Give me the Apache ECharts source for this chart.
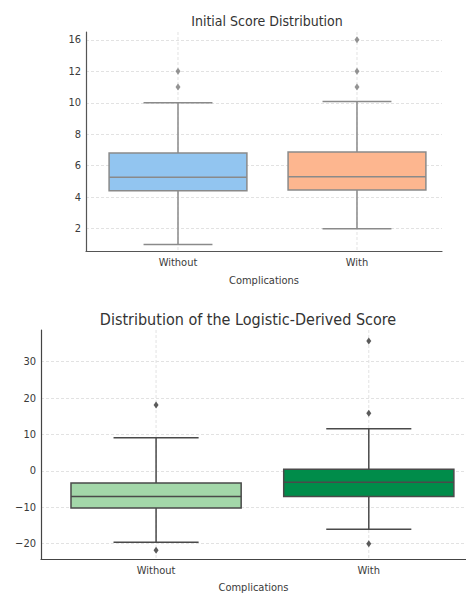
<!DOCTYPE html>
<html>
<head>
<meta charset="utf-8">
<script src="https://cdn.jsdelivr.net/npm/echarts@6/dist/echarts.min.js"></script>
<style>
html,body{margin:0;padding:0;background:#fff;overflow:hidden;}
#c{width:466px;height:596px;}
</style>
</head>
<body>
<div id="c"></div>
<script>
// ---------- data ----------
const categories = ['Without', 'With'];
// [min whisker, Q1, median, Q3, max whisker]
const initialWithout = [1.0, 4.41, 5.26, 6.81, 10.0];
const initialWith = [2.0, 4.45, 5.3, 6.88, 10.08];
const initialOutliersWithout = [11, 12];
const initialOutliersWith = [11, 12, 14]; // top point sits on the gridline the reference labels "16"
const initialTickValues = [2, 4, 6, 8, 10, 12, 14];
const initialTickLabels = ['2', '4', '6', '8', '10', '12', '16'];

const logisticWithout = [-19.6, -10.2, -7.0, -3.3, 9.1];
const logisticWith = [-16.0, -7.0, -3.1, 0.45, 11.6];
const logisticOutliersWithout = [18.1, -21.8];
const logisticOutliersWith = [35.7, 15.8, -20.0];
const logisticTickValues = [-20, -10, 0, 10, 20, 30];

// ---------- helpers ----------
const FONT = "'DejaVu Sans Condensed', 'DejaVu Sans', sans-serif";

function boxRenderer(boxW, fills, edge) {
  return function (params, api) {
    const c = api.value(0);
    const mn = api.value(1), q1 = api.value(2), med = api.value(3), q3 = api.value(4), mx = api.value(5);
    const w = api.size([boxW, 0])[0];
    const pMin = api.coord([c, mn]);
    const pQ1 = api.coord([c, q1]);
    const pMed = api.coord([c, med]);
    const pQ3 = api.coord([c, q3]);
    const pMax = api.coord([c, mx]);
    const cx = pMed[0];
    const cs = params.coordSys;
    const lineStyle = { stroke: edge, lineWidth: 1.5, fill: null };
    return {
      type: 'group',
      children: [
        { type: 'line', shape: { x1: cx, y1: cs.y, x2: cx, y2: cs.y + cs.height },
          style: { stroke: '#e2e2e2', lineWidth: 1, lineDash: [3, 2] }, z2: 0 },
        { type: 'line', shape: { x1: cx, y1: pQ3[1], x2: cx, y2: pMax[1] }, style: lineStyle, z2: 1 },
        { type: 'line', shape: { x1: cx, y1: pQ1[1], x2: cx, y2: pMin[1] }, style: lineStyle, z2: 1 },
        { type: 'line', shape: { x1: cx - w / 4, y1: pMax[1], x2: cx + w / 4, y2: pMax[1] }, style: lineStyle, z2: 1 },
        { type: 'line', shape: { x1: cx - w / 4, y1: pMin[1], x2: cx + w / 4, y2: pMin[1] }, style: lineStyle, z2: 1 },
        { type: 'rect', shape: { x: cx - w / 2, y: pQ3[1], width: w, height: pQ1[1] - pQ3[1] },
          style: { fill: fills[c], stroke: edge, lineWidth: 1.5 }, z2: 2 },
        { type: 'line', shape: { x1: cx - w / 2, y1: pMed[1], x2: cx + w / 2, y2: pMed[1] }, style: lineStyle, z2: 3 }
      ]
    };
  };
}

function outlierData(idx, arr) { return arr.map(v => [idx, v]); }

const axisText = { fontFamily: FONT, fontSize: 11, color: '#3a3a3a' };

const option = {
  animation: false,
  backgroundColor: '#ffffff',
  title: [
    { text: 'Initial Score Distribution', left: 262, top: 9, textAlign: 'center',
      textStyle: { fontFamily: FONT, fontSize: 14, fontWeight: 'normal', color: '#333' } },
    { text: 'Distribution of the Logistic-Derived Score', left: 243, top: 306, textAlign: 'center',
      textStyle: { fontFamily: FONT, fontSize: 16, fontWeight: 'normal', color: '#333' } }
  ],
  grid: [
    { left: 86, top: 32, right: 24, bottom: 345 },
    { left: 41, top: 330, right: 0, bottom: 37 }
  ],
  xAxis: [
    { gridIndex: 0, type: 'value', min: -0.514, max: 1.475, position: 'bottom',
      axisLine: { show: true, onZero: false, lineStyle: { color: '#555', width: 1.2 } },
      axisTick: { show: false, customValues: [0, 1] },
      splitLine: { show: false },
      axisLabel: { customValues: [0, 1], formatter: v => categories[Math.round(v)], margin: 6, ...axisText },
      name: 'Complications', nameLocation: 'middle', nameGap: 24,
      nameTextStyle: { fontFamily: FONT, fontSize: 11, color: '#3a3a3a' } },
    { gridIndex: 1, type: 'value', min: -0.541, max: 1.457, position: 'bottom',
      axisLine: { show: true, onZero: false, lineStyle: { color: '#444', width: 1.2 } },
      axisTick: { show: false, customValues: [0, 1] },
      splitLine: { show: false },
      axisLabel: { customValues: [0, 1], formatter: v => categories[Math.round(v)], margin: 6, ...axisText },
      name: 'Complications', nameLocation: 'middle', nameGap: 23,
      nameTextStyle: { fontFamily: FONT, fontSize: 11, color: '#3a3a3a' } }
  ],
  yAxis: [
    { gridIndex: 0, type: 'value', min: 0.58, max: 14.5, position: 'left',
      axisLine: { show: true, onZero: false, lineStyle: { color: '#555', width: 1.2 } },
      axisTick: { show: false, customValues: initialTickValues },
      splitLine: { show: true, lineStyle: { color: '#e2e2e2', type: [3, 2] } },
      axisLabel: { customValues: initialTickValues,
        formatter: v => initialTickLabels[initialTickValues.indexOf(Math.round(v))], margin: 5, ...axisText } },
    { gridIndex: 1, type: 'value', min: -24.2, max: 38.7, position: 'left',
      axisLine: { show: true, onZero: false, lineStyle: { color: '#444', width: 1.2 } },
      axisTick: { show: false, customValues: logisticTickValues },
      splitLine: { show: true, lineStyle: { color: '#e2e2e2', type: [3, 2] } },
      axisLabel: { customValues: logisticTickValues,
        formatter: v => (v < 0 ? '\u2212' + Math.abs(v) : String(v)), margin: 5, ...axisText } }
  ],
  series: [
    { type: 'custom', xAxisIndex: 0, yAxisIndex: 0, clip: false,
      renderItem: boxRenderer(0.77, ['#92c5f0', '#fdb68f'], '#8a8a8a'),
      encode: { x: 0, y: [1, 2, 3, 4, 5] },
      data: [[0, ...initialWithout], [1, ...initialWith]] },
    { type: 'scatter', xAxisIndex: 0, yAxisIndex: 0, symbol: 'diamond', symbolSize: [5, 7], clip: false,
      itemStyle: { color: '#7a7a7a' },
      data: outlierData(0, initialOutliersWithout).concat(outlierData(1, initialOutliersWith)) },
    { type: 'custom', xAxisIndex: 1, yAxisIndex: 1, clip: false,
      renderItem: boxRenderer(0.8, ['#a3d7a9', '#008c4a'], '#4a4a4a'),
      encode: { x: 0, y: [1, 2, 3, 4, 5] },
      data: [[0, ...logisticWithout], [1, ...logisticWith]] },
    { type: 'scatter', xAxisIndex: 1, yAxisIndex: 1, symbol: 'diamond', symbolSize: [5, 7], clip: false,
      itemStyle: { color: '#333333' },
      data: outlierData(0, logisticOutliersWithout).concat(outlierData(1, logisticOutliersWith)) }
  ]
};

const chart = echarts.init(document.getElementById('c'), null, { renderer: 'svg' });
chart.setOption(option);
</script>
</body>
</html>
